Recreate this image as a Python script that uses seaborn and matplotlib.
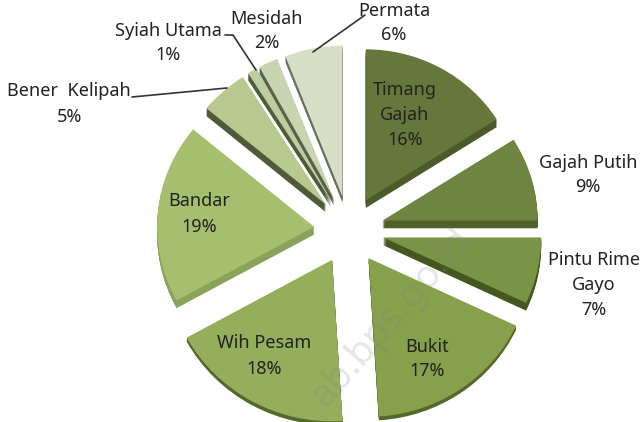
import numpy as np
import matplotlib
matplotlib.use('Agg')
import matplotlib.pyplot as plt
import seaborn as sns

names = ['Timang\nGajah', 'Gajah Putih', 'Pintu Rime\nGayo', 'Bukit', 'Wih Pesam',
         'Bandar', 'Bener  Kelipah', 'Syiah Utama', 'Mesidah', 'Permata']
share = [16, 9, 7, 17, 18, 19, 5, 1, 2, 6]
slice_colors = ['#66773c', '#6f8440', '#7a9447', '#86a04c', '#95ae5c',
                '#a6bf6f', '#b7c98f', '#bccda0', '#c8d5b0', '#d6dfc6']
side_colors = ['#4a5a28', '#4f6028', '#45571f', '#55682a', '#55682a',
               '#8aa35a', '#4f5a38', '#4f5a38', '#5a6248', '#6a6f60']
# per slice look: the original has some perspective
slice_radius = [155, 155, 158, 163, 166, 157, 155, 155, 155, 155]
slice_depth = [8, 8, 8, 4, 4, 8, 8, 7, 7, 6]
# label centres in pixels, same order as names
label_x = [405, 588, 594, 427, 264, 199, 69, 168, 267, 394]
label_y = [115, 175, 285, 359, 356, 214, 104, 43, 31, 23]

sns.set_theme(style='white')
plt.rcParams['font.family'] = ['Noto Sans', 'DejaVu Sans']

W, H = 643, 422
fig = plt.figure(figsize=(W / 100, H / 100), dpi=100)
ax = fig.add_axes([0, 0, 1, 1])

cx, cy = 349, H - 230
gap = 35
squash = 0.973


def draw_pie(colors, shift):
    wedges, _ = ax.pie(share, colors=colors, explode=[gap] * len(share), radius=155,
                       center=(cx, cy - shift), startangle=90, counterclock=False,
                       frame=True, wedgeprops={'linewidth': 0})
    for i, w in enumerate(wedges):
        w.set_radius(slice_radius[i])
        if shift > slice_depth[i]:
            w.set_visible(False)


# the side of the pie, dark copies stepped downwards
for d in range(max(slice_depth), 0, -1):
    draw_pie(side_colors, d)
draw_pie(slice_colors, 0)

ax.set_xlim(0, W)
ax.set_ylim(cy - cy / squash, cy + (H - cy) / squash)
ax.set_aspect('auto')
ax.set_axis_off()

# texts and leader lines in plain pixels
top = fig.add_axes([0, 0, 1, 1])
top.set_xlim(0, W)
top.set_ylim(H, 0)
top.patch.set_alpha(0)
top.set_axis_off()

# watermark
top.text(392, 318, 'ab.bps.go.id', rotation=49, fontsize=28, color='#808080', alpha=0.2,
         ha='center', va='center', fontweight='bold')

for n, s, x, y in zip(names, share, label_x, label_y):
    top.text(x, y, n + '\n' + str(s) + '%', ha='center', va='center',
             fontsize=13, color='#222222', linespacing=1.5)

# leader lines
top.plot([132, 227], [97, 88], color='#333333', lw=1.2)
top.plot([225, 233, 256], [35, 35, 70], color='#333333', lw=1.2)
top.plot([365, 313], [15, 52], color='#333333', lw=1.2)

fig.savefig('out.png', dpi=100)
